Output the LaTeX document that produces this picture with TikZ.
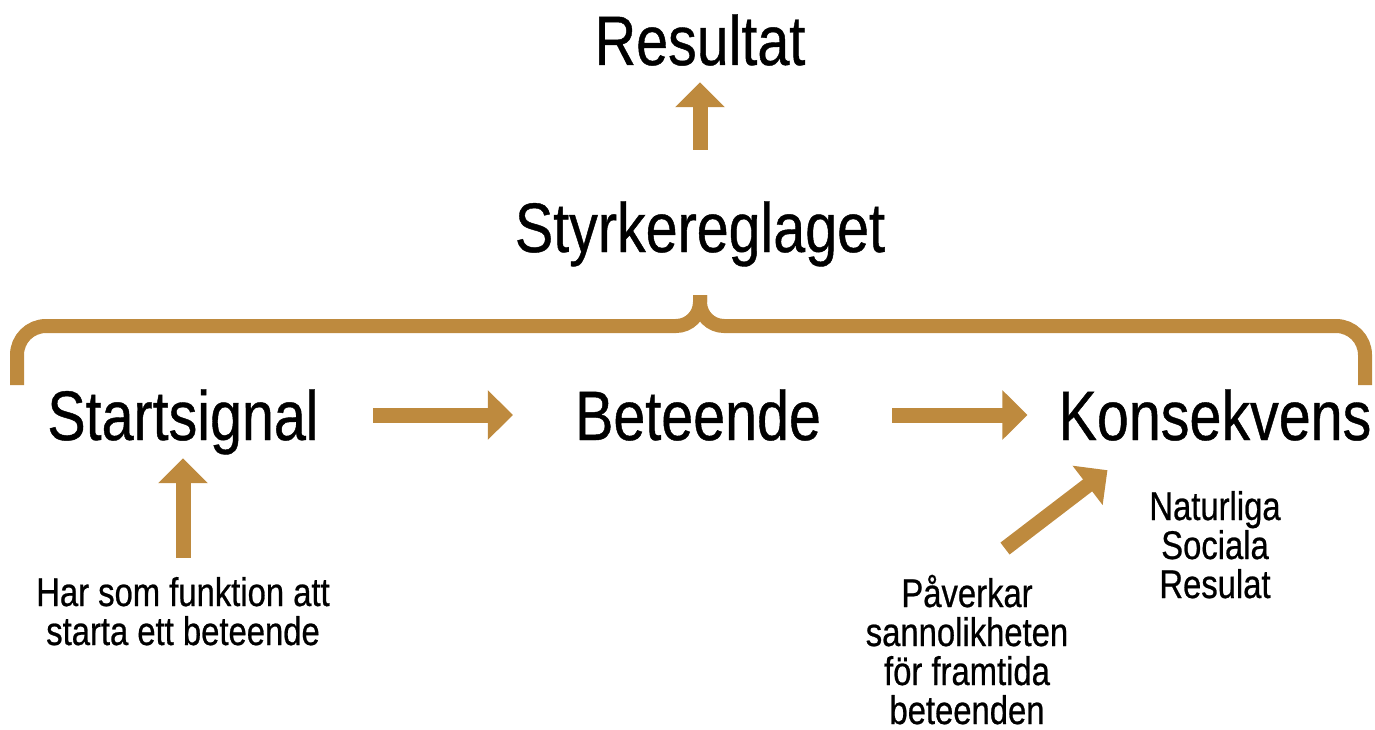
\documentclass[tikz,border=0pt]{standalone}
\usepackage{fontspec}
\setmainfont{Liberation Sans}[FakeStretch=0.82,FakeBold=0.6]
\usetikzlibrary{arrows.meta,calc}
\definecolor{gold}{RGB}{190,138,62}
\tikzset{
  big/.style={inner sep=0pt, anchor=base, font=\fontsize{70}{70}\selectfont, text height=50pt, text depth=0pt},
  small/.style={inner sep=0pt, anchor=base, align=center, font=\fontsize{40}{39}\selectfont},
  fat/.style={draw=gold, line width=15pt, -{Triangle[length=25pt,width=48pt]}},
  bracestyle/.style={draw=gold, line width=14pt}
}
\begin{document}
\begin{tikzpicture}[x=1pt,y=-1pt]
\useasboundingbox (0,0) rectangle (1375,730);
\node[big] (res) at (700,65) {Resultat};
\node[big] (sty) at (700,252) {Styrkereglaget};
\node[big] (start) at (183,440) {Startsignal};
\node[big] (bet) at (698,440) {Beteende};
\node[big] (kon) at (1215,440) {Konsekvens};
\node[small] (har) at (183,645) {Har som funktion att\\starta ett beteende};
\node[small] (pav) at (967,724) {Påverkar\\sannolikheten\\för framtida\\beteenden};
\node[small] (nat) at (1215,598) {Naturliga\\Sociala\\Resulat};
% brace
\draw[bracestyle] (17,385) -- (17,355) arc[start angle=180,end angle=270,radius=29] -- (676,326) arc[start angle=90,end angle=0,radius=24] -- (700,295);
\draw[bracestyle] (1365,385) -- (1365,355) arc[start angle=0,end angle=-90,radius=29] -- (724,326) arc[start angle=90,end angle=180,radius=24] -- (700,295);
% arrows
\draw[fat, shorten <=52pt, shorten >=17pt] (sty.north) -- (res.south);
\draw[fat, shorten <=54pt, shorten >=62pt] (start.east) -- (bet.west);
\draw[fat, shorten <=71pt, shorten >=31pt] (bet.east) -- (kon.west);
\draw[fat, shorten <=19pt, shorten >=18pt] (har.north) -- (start.south);
\draw[fat] ([xshift=38pt,yshift=26pt]pav.north) -- ([xshift=49pt,yshift=-30pt]kon.south west);
\end{tikzpicture}
\end{document}
